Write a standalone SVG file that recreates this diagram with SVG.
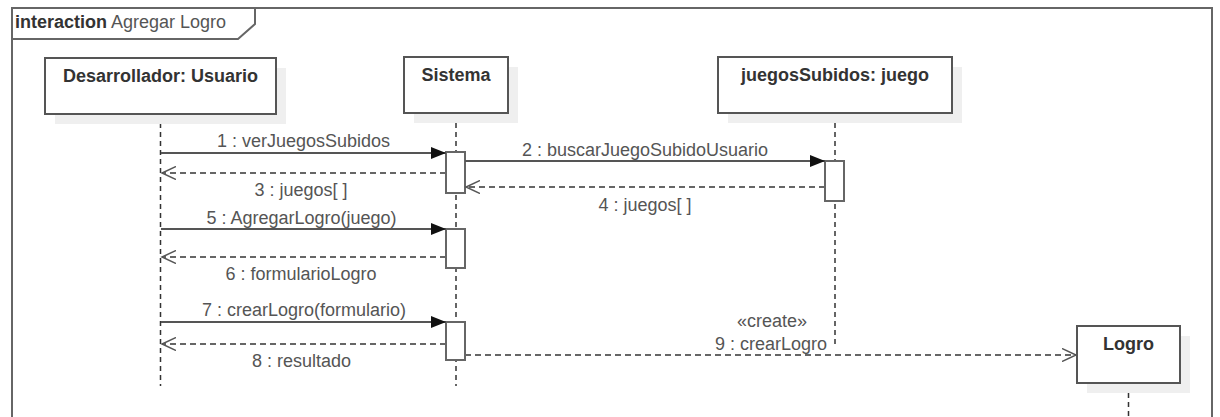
<svg xmlns="http://www.w3.org/2000/svg" width="1220" height="417" viewBox="0 0 1220 417">
<defs>
<marker id="filled" markerWidth="16" markerHeight="12" refX="15" refY="6" orient="auto" markerUnits="userSpaceOnUse">
<path d="M0,0 L15,6 L0,12 Z" fill="#111"/>
</marker>
<marker id="open" markerWidth="16" markerHeight="14" refX="14" refY="7" orient="auto" markerUnits="userSpaceOnUse">
<path d="M0,0.5 L14,7 L0,13.5" fill="none" stroke="#555" stroke-width="1.5"/>
</marker>
<style>
.frame{fill:none;stroke:#666;stroke-width:2}
.box{fill:#fff;stroke:#555;stroke-width:2}
.shadow{fill:#efefef;stroke:none}
.name{font-family:"Liberation Sans",Arial,sans-serif;font-weight:bold;font-size:18px;fill:#333;text-anchor:middle}
.lbl{font-family:"Liberation Sans",Arial,sans-serif;font-size:18px;fill:#555;text-anchor:middle}
.life{stroke:#333;stroke-width:1.5;stroke-dasharray:5,4;fill:none}
.act{fill:#fff;stroke:#666;stroke-width:2}
.msg{stroke:#555;stroke-width:2;fill:none;marker-end:url(#filled)}
.ret{stroke:#666;stroke-width:2;stroke-dasharray:6,4;fill:none;marker-end:url(#open)}
</style>
</defs>
<rect width="1220" height="417" fill="#fff"/>
<g id="frame">
<rect class="frame" x="12" y="8" width="1200" height="430"/>
<path class="frame" d="M12,39 L238,39 L255,24 L255,8"/>
<text x="15" y="28" font-family="Liberation Sans, Arial, sans-serif" font-size="18" fill="#333"><tspan font-weight="bold">interaction</tspan><tspan fill="#555"> Agregar Logro</tspan></text>
</g>
<g id="lifelines">
<line class="life" x1="160.5" y1="114" x2="160.5" y2="386"/>
<line class="life" x1="456" y1="114" x2="456" y2="386"/>
<line class="life" x1="835" y1="114" x2="835" y2="344"/>
<line class="life" x1="1128.5" y1="384" x2="1128.5" y2="417"/>
</g>
<g id="node-desarrollador">
<rect class="shadow" x="55" y="68" width="231" height="56"/>
<rect class="box" x="45" y="58" width="231" height="56"/>
<text class="name" x="160.5" y="82">Desarrollador: Usuario</text>
</g>
<g id="node-sistema">
<rect class="shadow" x="414" y="67" width="104" height="56"/>
<rect class="box" x="404" y="57" width="104" height="56"/>
<text class="name" x="456" y="81">Sistema</text>
</g>
<g id="node-juegos">
<rect class="shadow" x="728" y="67" width="234" height="56"/>
<rect class="box" x="718" y="57" width="234" height="56"/>
<text class="name" x="835" y="81">juegosSubidos: juego</text>
</g>
<g id="node-logro">
<rect class="shadow" x="1087" y="336" width="103" height="57"/>
<rect class="box" x="1077" y="326" width="103" height="57"/>
<text class="name" x="1128.5" y="350">Logro</text>
</g>
<g id="activations">
<rect class="act" x="446" y="152" width="19" height="41"/>
<rect class="act" x="825" y="161" width="19" height="40"/>
<rect class="act" x="446" y="229" width="19" height="39"/>
<rect class="act" x="446" y="322" width="19" height="38"/>
</g>
<g id="connectors">
<line class="msg" x1="161" y1="153" x2="446" y2="153"/>
<text class="lbl" x="303.5" y="147">1 : verJuegosSubidos</text>
<line class="msg" x1="465" y1="161" x2="825" y2="161"/>
<text class="lbl" x="645" y="156">2 : buscarJuegoSubidoUsuario</text>
<line class="ret" x1="446" y1="173" x2="162" y2="173"/>
<text class="lbl" x="301" y="196">3 : juegos[ ]</text>
<line class="ret" x1="825" y1="187" x2="466" y2="187"/>
<text class="lbl" x="645" y="211">4 : juegos[ ]</text>
<line class="msg" x1="161" y1="229" x2="446" y2="229"/>
<text class="lbl" x="301.5" y="224">5 : AgregarLogro(juego)</text>
<line class="ret" x1="446" y1="257" x2="162" y2="257"/>
<text class="lbl" x="301" y="280">6 : formularioLogro</text>
<line class="msg" x1="161" y1="322" x2="446" y2="322"/>
<text class="lbl" x="304" y="316">7 : crearLogro(formulario)</text>
<line class="ret" x1="446" y1="344" x2="162" y2="344"/>
<text class="lbl" x="301.5" y="367">8 : resultado</text>
<line class="ret" x1="465" y1="355" x2="1076" y2="355"/>
<text class="lbl" x="772" y="327">«create»</text>
<text class="lbl" x="771" y="350">9 : crearLogro</text>
</g>
</svg>
